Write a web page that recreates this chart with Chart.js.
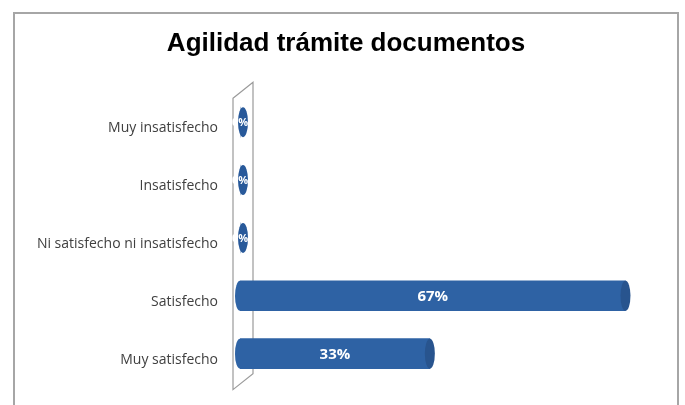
<!DOCTYPE html>
<html>
<head>
<meta charset="utf-8">
<script src="https://cdn.jsdelivr.net/npm/chart.js@4.4.0/dist/chart.umd.min.js"></script>
<style>
  html, body { margin: 0; padding: 0; background: #fff; }
  #wrap { position: relative; width: 685px; height: 405px; }
  #frame { position: absolute; left: 13px; top: 12px; width: 666px; height: 400px;
           border: 2px solid #a6a6a6; border-bottom: none; box-sizing: border-box; }
</style>
</head>
<body>
<div id="wrap">
  <div id="frame"></div>
  <canvas id="chart" width="685" height="405"></canvas>
</div>
<script>
const categories = ["Muy insatisfecho", "Insatisfecho", "Ni satisfecho ni insatisfecho", "Satisfecho", "Muy satisfecho"];
const percentValues = [0, 0, 0, 67, 33];
const valueLabels = ["0%", "0%", "0%", "67%", "33%"];

// 3D look: back wall, cylinder caps and labels
const cylinderPlugin = {
  id: "cylinder",
  beforeDatasetsDraw(chart) {
    const c = chart.ctx;
    const x0 = chart.scales.x.getPixelForValue(0);
    const top = chart.chartArea.top;
    const bottom = chart.chartArea.bottom;
    c.save();
    c.beginPath();
    c.moveTo(x0 - 7, top + 5);
    c.lineTo(x0 + 13, top - 11);
    c.lineTo(x0 + 13, bottom - 9);
    c.lineTo(x0 - 7, bottom + 7);
    c.closePath();
    c.fillStyle = "#ffffff";
    c.fill();
    c.strokeStyle = "#9a9a9a";
    c.lineWidth = 1.2;
    c.stroke();
    c.restore();
  },
  afterDatasetsDraw(chart) {
    const c = chart.ctx;
    const meta = chart.getDatasetMeta(0);
    c.save();
    meta.data.forEach((bar, i) => {
      const h = bar.height / 2;
      const rx = 5;
      if (percentValues[i] === 0) {
        c.beginPath();
        c.ellipse(bar.base + 3, bar.y, rx, h, 0, 0, Math.PI * 2);
        c.fillStyle = "#28599a";
        c.fill();
      } else {
        c.beginPath();
        c.ellipse(bar.base, bar.y, rx, h, 0, Math.PI / 2, Math.PI * 1.5);
        c.fillStyle = "#2f64a6";
        c.fill();
        c.beginPath();
        c.ellipse(bar.x, bar.y, rx, h, 0, 0, Math.PI * 2);
        c.fillStyle = "#28548e";
        c.fill();
      }
      c.fillStyle = "#ffffff";
      c.textAlign = "center";
      c.textBaseline = "middle";
      if (percentValues[i] === 0) {
        c.font = "bold 11px 'Open Sans', sans-serif";
        c.fillText(valueLabels[i], bar.base, bar.y + 1);
      } else {
        c.font = "bold 15px 'Open Sans', sans-serif";
        c.fillText(valueLabels[i], (bar.base + bar.x) / 2, bar.y + 1);
      }
    });
    c.restore();
  }
};

const ctx = document.getElementById("chart").getContext("2d");

new Chart(ctx, {
  type: "bar",
  data: {
    labels: categories,
    datasets: [
      {
        data: percentValues,
        backgroundColor: function (context) {
          const bar = context.element;
          if (!bar || bar.y === undefined) return "#2e62a4";
          const g = context.chart.ctx.createLinearGradient(0, bar.y - 15, 0, bar.y + 15);
          g.addColorStop(0, "#3a6fb2");
          g.addColorStop(0.35, "#2f66aa");
          g.addColorStop(0.8, "#2a5996");
          g.addColorStop(1, "#1f477a");
          return g;
        },
        barThickness: 30,
      },
    ],
  },
  options: {
    indexAxis: "y",
    responsive: false,
    animation: false,
    layout: {
      padding: { left: 32, right: 25, top: 0, bottom: 22 },
    },
    plugins: {
      legend: { display: false },
      tooltip: { enabled: false },
      title: {
        display: true,
        text: "Agilidad trámite documentos",
        color: "#000",
        font: { family: "'Liberation Sans', Arial, sans-serif", size: 26, weight: "bold" },
        padding: { top: 28, bottom: 34 },
      },
    },
    scales: {
      x: {
        display: false,
        min: 0,
        max: 73,
      },
      y: {
        afterFit(scale) {
          scale.width = 208;
        },
        grid: { display: false, drawBorder: false },
        border: { display: false },
        ticks: {
          color: "#404040",
          padding: 14,
          labelOffset: 6,
          font: { family: "'Open Sans', sans-serif", size: 14 },
        },
      },
    },
  },
  plugins: [cylinderPlugin],
});
</script>
</body>
</html>
